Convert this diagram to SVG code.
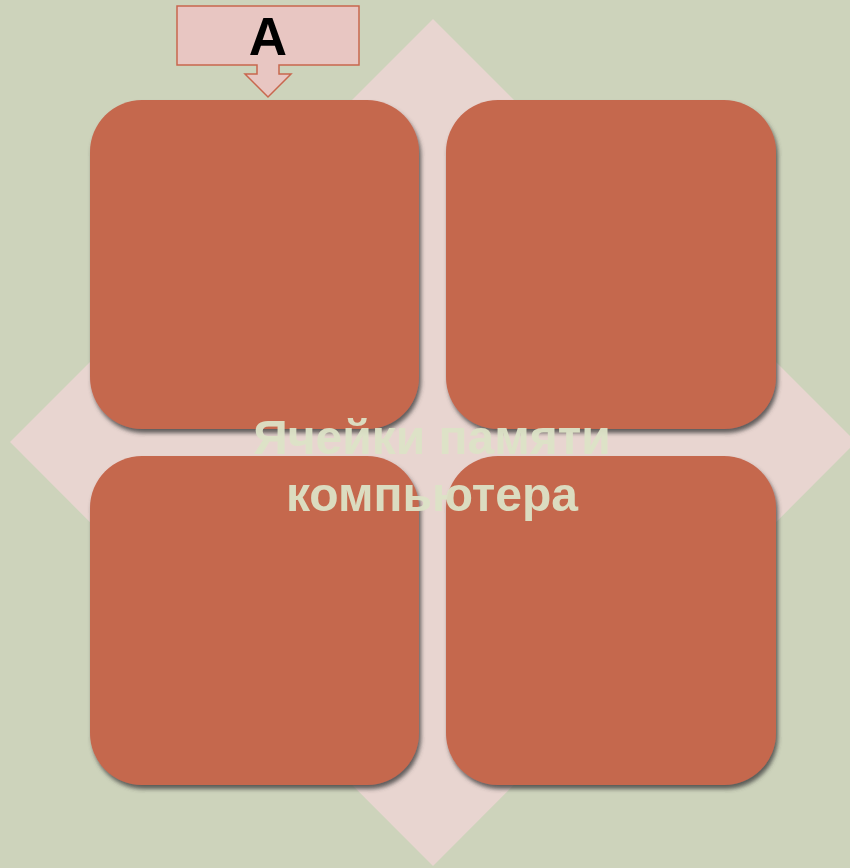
<svg xmlns="http://www.w3.org/2000/svg" width="850" height="868" viewBox="0 0 850 868">
<style>
.cell{fill:#C5674E;filter:url(#sh)}
.title{font-family:"Liberation Sans",Arial,sans-serif;font-weight:bold;font-size:48px;fill:#DDE3C7;text-anchor:middle;opacity:0.95}
.lbl{font-family:"Liberation Sans",Arial,sans-serif;font-weight:bold;font-size:53px;fill:#000;text-anchor:middle}
</style>
<defs>
<filter id="sh" x="-10%" y="-10%" width="120%" height="120%">
<feDropShadow dx="2" dy="4" stdDeviation="2" flood-color="#404040" flood-opacity="0.8"/>
</filter>
</defs>
<rect width="850" height="868" fill="#CDD3BB"/>
<g id="diamond"><polygon points="433,19 856,442 433,866 10,442" fill="#E8D5D0"/></g>
<g id="cell-tl"><rect class="cell" x="90" y="100" width="329" height="329" rx="52"/></g>
<g id="cell-tr"><rect class="cell" x="446" y="100" width="330" height="329" rx="52"/></g>
<g id="cell-bl"><rect class="cell" x="90" y="456" width="329" height="329" rx="52"/></g>
<g id="cell-br"><rect class="cell" x="446" y="456" width="330" height="329" rx="52"/></g>
<g id="title"><text class="title" x="432" y="454">Ячейки памяти</text><text class="title" x="432" y="511">компьютера</text></g>
<g id="connectors">
<g id="callout-A">
<path d="M177,6 H359 V65 H279 V74 H291 L268,97 L245,74 H257 V65 H177 Z" fill="#E8C6C2" stroke="#C8674E" stroke-width="1.5" stroke-linejoin="miter"/>
<text class="lbl" x="268" y="55">A</text>
</g>
</g>
</svg>
